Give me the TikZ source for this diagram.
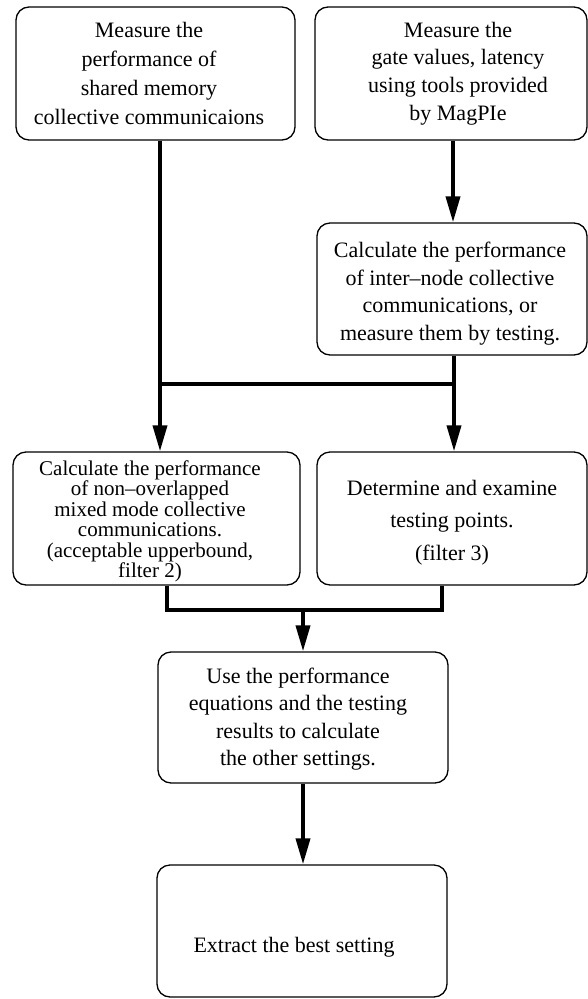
\documentclass[tikz,border=0pt]{standalone}
\usepackage{fontspec}
\setmainfont{Liberation Serif}
\usetikzlibrary{arrows.meta}

\begin{document}
\begin{tikzpicture}[x=1pt,y=-1pt,
  stepbox/.style={draw, line width=1.3pt, rounded corners=13pt, inner sep=0pt},
  steptext/.style={align=center, inner sep=0pt, font=\fontsize{22}{28}\selectfont},
  link/.style={line width=3.8pt, line join=miter},
  flow/.style={link, -{Triangle[length=26pt, width=14pt]}}]

  \useasboundingbox (0,0) rectangle (588,999);

  % process boxes
  \node[stepbox, minimum width=279pt, minimum height=133pt] (b1) at (155.5,73.5) {};
  \node[stepbox, minimum width=272pt, minimum height=133pt] (b2) at (451,73.5) {};
  \node[stepbox, minimum width=270pt, minimum height=132pt] (b3) at (452,289) {};
  \node[stepbox, minimum width=287pt, minimum height=133pt] (b4) at (156.5,518.5) {};
  \node[stepbox, minimum width=270pt, minimum height=133pt] (b5) at (452,518.5) {};
  \node[stepbox, minimum width=290pt, minimum height=131pt] (b6) at (303,717.5) {};
  \node[stepbox, minimum width=290pt, minimum height=132pt] (b7) at (302,931) {};

  % box texts
  \node[steptext, font=\fontsize{22}{29}\selectfont] (t1) at (149,73.5)
    {Measure the\\performance of\\shared memory\\collective communicaions};
  \node[steptext, font=\fontsize{22}{27.7}\selectfont] (t2) at (458,73.5)
    {Measure the\\gate values, latency\\using tools provided\\by MagPIe};
  \node[steptext, font=\fontsize{22}{27.7}\selectfont] (t3) at (450,293.5)
    {Calculate the performance\\of inter--node collective\\communications, or\\measure them by testing.};
  \node[steptext, font=\fontsize{21}{20.5}\selectfont] (t4) at (150,521.5)
    {Calculate the performance\\of non--overlapped\\mixed mode collective\\communications.\\(acceptable upperbound,\\filter 2)};
  \node[steptext, font=\fontsize{22}{32.5}\selectfont] (t5) at (452,522.5)
    {Determine and examine\\testing points.\\(filter 3)};
  \node[steptext, font=\fontsize{22}{27.3}\selectfont] (t6) at (298,719)
    {Use the performance\\equations and the testing\\results to calculate\\the other settings.};
  \node[steptext] (t7) at (294,947) {Extract the best setting};

  % junction points
  \coordinate (jL) at (160,384);
  \coordinate (jR) at (454,384);
  \coordinate (m) at (303,610);

  % connectors
  \draw[flow] ([xshift=4.5pt]b1.south) -- ([xshift=4.5pt]b1.south |- b4.north);
  \draw[flow] ([xshift=2pt]b2.south) -- ([xshift=2pt]b2.south |- b3.north);
  \draw[flow] ([xshift=2pt]b3.south) -- ([xshift=2pt]b3.south |- b5.north);
  \draw[link] (jL) -- (jR);
  \draw[link] ([xshift=10.5pt]b4.south) |- (m) -| ([xshift=-10pt]b5.south);
  \draw[flow] (m) -- (m |- b6.north);
  \draw[flow] (b6.south) -- (b6.south |- b7.north);
\end{tikzpicture}
\end{document}
